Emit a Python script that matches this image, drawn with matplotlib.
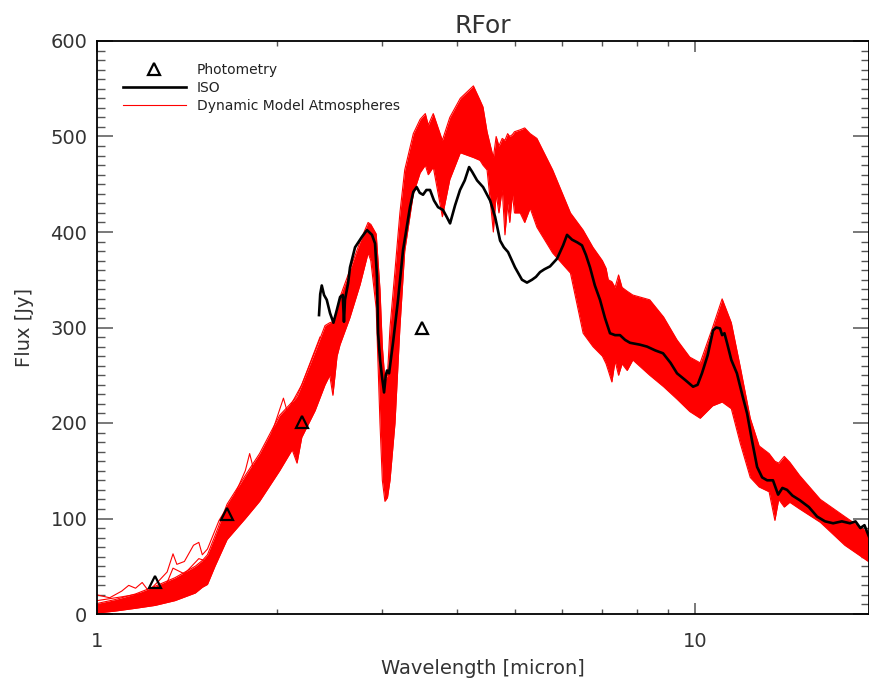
import numpy as np
import matplotlib
matplotlib.use("Agg")
import matplotlib.pyplot as plt
from matplotlib.ticker import FixedLocator, FixedFormatter, NullFormatter, MultipleLocator

# ---------------------------------------------------------------- data
# Photometry (J, H, K, L)
phot_wave = [1.25, 1.65, 2.20, 3.50]
phot_flux = [34, 105, 201, 300]

# ISO SWS spectrum
iso_wave = [2.351, 2.362, 2.376, 2.397, 2.422, 2.453, 2.485, 2.517, 2.550, 2.576,
            2.588, 2.598, 2.629, 2.649, 2.701, 2.774, 2.828, 2.883, 2.917, 2.939,
            2.951, 2.975, 2.997, 3.020, 3.040, 3.055, 3.079, 3.126, 3.187, 3.249,
            3.337, 3.380, 3.424, 3.465, 3.509, 3.555, 3.605, 3.660, 3.718, 3.790,
            3.850, 3.894, 3.970, 4.046, 4.120, 4.190, 4.240, 4.321, 4.422, 4.543,
            4.631, 4.721, 4.790, 4.868, 5.000, 5.136, 5.236, 5.338, 5.420, 5.506,
            5.600, 5.722, 5.878, 6.017, 6.109, 6.228, 6.360, 6.471, 6.570, 6.674,
            6.800, 6.936, 7.070, 7.208, 7.350, 7.491, 7.640, 7.785, 8.090, 8.313,
            8.580, 8.841, 9.100, 9.331, 9.630, 9.924, 10.10, 10.27, 10.50, 10.72,
            10.85, 11.01, 11.10, 11.20, 11.31, 11.50, 11.75, 12.00, 12.22, 12.45,
            12.70, 12.95, 13.20, 13.50, 13.77, 14.00, 14.25, 14.55, 14.98, 15.50,
            16.00, 16.50, 17.02, 17.60, 18.16, 18.55, 18.90, 19.20, 19.54]
iso_flux = [313, 335, 344, 334, 329, 315, 305, 318, 332, 334,
            306, 329, 346, 363, 384, 395, 402, 397, 388, 353,
            294, 265, 248, 232, 250, 255, 252, 284, 329, 381,
            426, 442, 447, 441, 439, 444, 444, 433, 426, 423,
            415, 409, 428, 444, 454, 468, 463, 454, 447, 433,
            416, 391, 384, 379, 363, 350, 347, 350, 353, 358,
            361, 364, 372, 386, 397, 392, 389, 386, 376, 363,
            344, 329, 310, 294, 292, 292, 287, 284, 282, 280,
            276, 273, 263, 252, 245, 238, 240, 252, 271, 297,
            300, 299, 292, 294, 284, 266, 252, 229, 210, 182,
            154, 143, 140, 140, 125, 132, 130, 124, 119, 112,
            102, 97, 95, 97, 95, 97, 90, 93, 81]

# Dynamic model atmospheres: envelope of the model grid (lowest / highest model)
model_wave = [1.00, 1.07, 1.16, 1.25, 1.35, 1.46, 1.50, 1.53, 1.575, 1.65,
              1.77, 1.87, 2.02, 2.12, 2.16, 2.20, 2.316, 2.406, 2.45, 2.48,
              2.52, 2.549, 2.647, 2.754, 2.84, 2.87, 2.93, 2.973, 3.00, 3.03,
              3.06, 3.09, 3.15, 3.21, 3.27, 3.38, 3.47, 3.54, 3.58, 3.65,
              3.78, 3.89, 4.05, 4.26, 4.37, 4.42, 4.49, 4.55, 4.60, 4.65,
              4.70, 4.76, 4.81, 4.86, 4.90, 4.95, 4.99, 5.10, 5.19, 5.30,
              5.44, 5.78, 6.19, 6.50, 6.75, 7.00, 7.10, 7.16, 7.26, 7.35,
              7.45, 7.55, 7.70, 7.87, 8.40, 8.86, 9.33, 9.80, 10.2, 10.7,
              11.1, 11.5, 11.9, 12.37, 12.8, 13.3, 13.6, 13.8, 14.1, 14.4,
              14.96, 16.2, 17.8, 19.7]
model_low = [1, 3, 6, 9, 14, 22, 28, 31, 50, 78,
             100, 118, 150, 172, 158, 185, 213, 240, 250, 229,
             270, 282, 310, 345, 378, 370, 320, 200, 140, 118,
             122, 140, 200, 300, 380, 440, 462, 470, 460, 468,
             416, 455, 483, 478, 475, 470, 465, 430, 400, 440,
             420, 445, 397, 430, 410, 440, 420, 420, 410, 425,
             405, 378, 357, 294, 280, 270, 262, 255, 243, 265,
             250, 262, 255, 266, 250, 238, 225, 212, 205, 218,
             222, 215, 179, 143, 133, 128, 98, 120, 112, 117,
             110, 96, 72, 53]
model_high = [11, 15, 21, 29, 38, 50, 56, 62, 82, 115,
              145, 168, 208, 222, 228, 240, 275, 302, 305, 306,
              318, 332, 360, 390, 410, 408, 398, 340, 280, 245,
              250, 300, 360, 420, 465, 503, 518, 524, 512, 524,
              496, 520, 540, 553, 538, 531, 505, 490, 478, 500,
              490, 498, 496, 503, 500, 502, 505, 507, 509, 503,
              498, 465, 420, 402, 384, 370, 362, 350, 348, 342,
              355, 342, 338, 334, 329, 311, 287, 269, 263, 300,
              330, 305, 259, 205, 176, 168, 160, 158, 165, 159,
              145, 120, 102, 83]

# Two models with strong short-wavelength noise above the bulk of the grid
hot_wave = [1.00, 1.05, 1.10, 1.13, 1.16, 1.19, 1.22, 1.27, 1.31, 1.34,
            1.36, 1.40, 1.45, 1.48, 1.50, 1.53, 1.60, 1.70, 1.77, 1.80,
            1.83, 1.95, 2.05, 2.08, 2.20, 2.36]
hot_flux = [20, 17, 24, 30, 27, 33, 24, 35, 44, 63,
            52, 55, 72, 75, 62, 68, 98, 125, 150, 168,
            150, 185, 226, 212, 240, 290]
warm_wave = [1.00, 1.10, 1.20, 1.27, 1.31, 1.34, 1.40, 1.48, 1.53, 1.60]
warm_flux = [14, 18, 22, 26, 33, 48, 42, 58, 55, 80]

# ---------------------------------------------------------------- figure
plt.rcParams["font.family"] = ["DejaVu Sans"]
fig = plt.figure(figsize=(8.7, 6.8), dpi=100)
ax = fig.add_axes([97 / 870, 66 / 680, 772 / 870, 573 / 680])

red = "#ff0000"
ax.fill_between(model_wave, model_low, model_high, color=red, lw=0, zorder=2)
ax.plot(model_wave, model_low, color=red, lw=0.8, zorder=2)
ax.plot(model_wave, model_high, color=red, lw=0.8, zorder=2,
        label="Dynamic Model Atmospheres")
ax.plot(hot_wave, hot_flux, color=red, lw=0.8, zorder=2)
ax.plot(warm_wave, warm_flux, color=red, lw=0.8, zorder=2)

ax.plot(iso_wave, iso_flux, color="black", lw=1.9, zorder=3, label="ISO")
ax.plot(phot_wave, phot_flux, ls="none", marker="^", ms=8, mfc="none",
        mec="black", mew=1.6, zorder=4, label="Photometry")

ax.set_xscale("log")
ax.set_xlim(1, 19.54)
ax.set_ylim(0, 600)

ax.xaxis.set_major_locator(FixedLocator([1, 10]))
ax.xaxis.set_major_formatter(FixedFormatter(["1", "10"]))
ax.xaxis.set_minor_locator(FixedLocator([2, 3, 4, 5, 6, 7, 8, 9, 20]))
ax.xaxis.set_minor_formatter(NullFormatter())
ax.yaxis.set_major_locator(MultipleLocator(100))
ax.yaxis.set_minor_locator(MultipleLocator(10))

tick_col = "#555555"
ax.tick_params(axis="both", which="both", direction="in", top=True, right=True,
               color=tick_col, labelcolor="#333333", labelsize=14)
ax.tick_params(axis="x", which="major", length=8, width=1.1, pad=13)
ax.tick_params(axis="x", which="minor", length=3.6, width=1.0)
ax.tick_params(axis="y", which="major", length=11.5, width=1.1, pad=7)
ax.tick_params(axis="y", which="minor", length=5.8, width=1.0)
for s in ax.spines.values():
    s.set_linewidth(1.3)
    s.set_color("black")

ax.set_xlabel("Wavelength [micron]", fontsize=14, color="#333333", labelpad=6)
ax.set_ylabel("Flux [Jy]", fontsize=14, color="#333333", labelpad=12)
ax.set_title("RFor", fontsize=18, color="#333333", pad=6)

handles, labels = ax.get_legend_handles_labels()
order = [2, 1, 0]
leg = ax.legend([handles[i] for i in order], [labels[i] for i in order],
                loc="upper left", bbox_to_anchor=(123 / 870, (680 - 63) / 680),
                bbox_transform=fig.transFigure, frameon=False, fontsize=10,
                handlelength=4.5, handletextpad=0.8, labelspacing=0.3,
                borderpad=0, borderaxespad=0)
for t in leg.get_texts():
    t.set_color("#222222")

fig.savefig("out.png", dpi=100)
